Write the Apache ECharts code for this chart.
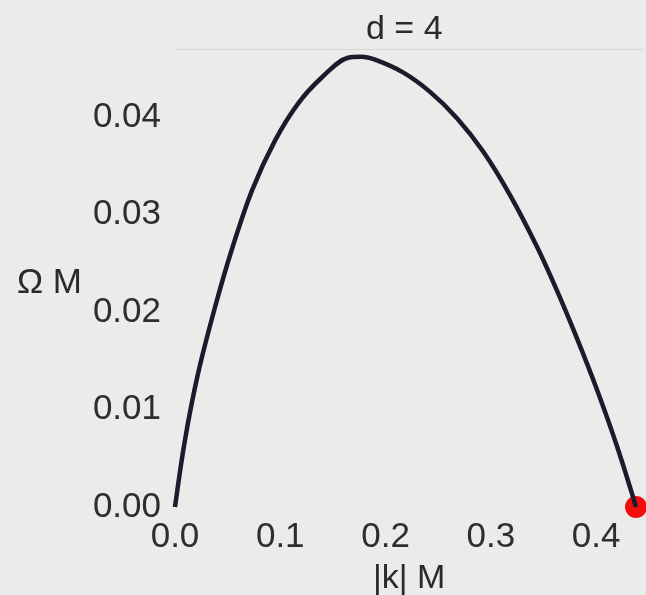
<!DOCTYPE html>
<html>
<head>
<meta charset="utf-8">
<script src="https://cdn.jsdelivr.net/npm/echarts@6/dist/echarts.min.js"></script>
<style>
html, body { margin: 0; padding: 0; background: #ebebea; }
#chart { width: 646px; height: 595px; }
</style>
</head>
<body>
<div id="chart"></div>
<script>
// Data
const titleText = 'd = 4';
const xName = '|k| M';
const yName = 'Ω M';
const kValues = [0, 0.0095, 0.0219, 0.038, 0.0542, 0.0732, 0.095, 0.1169, 0.1397, 0.1644, 0.177, 0.19, 0.2166, 0.2423, 0.2679, 0.2926, 0.3183, 0.3439, 0.3629, 0.3819, 0.401, 0.42, 0.438];
const omegaValues = [0, 0.0069, 0.0137, 0.0205, 0.0265, 0.0325, 0.0376, 0.0414, 0.0441, 0.0461, 0.0462, 0.0459, 0.0446, 0.0426, 0.0399, 0.0365, 0.0320, 0.0267, 0.0222, 0.0173, 0.0120, 0.0062, 0];
const endPoint = [0.438, 0];
const xTicks = [0, 0.1, 0.2, 0.3, 0.4];
const yTicks = [0, 0.01, 0.02, 0.03, 0.04];

const curve = kValues.map((k, i) => [k, omegaValues[i]]);
const font = 'Liberation Sans, Arial, sans-serif';

const chart = echarts.init(document.getElementById('chart'));
chart.setOption({
  backgroundColor: '#ebebea',
  animation: false,
  title: {
    text: titleText,
    left: 361,
    top: 8,
    textStyle: { fontFamily: font, fontSize: 34, fontWeight: 'normal', color: '#2a2a2a' }
  },
  grid: { left: 175, top: 49, bottom: 88, width: 468.4, outerBoundsMode: 'none', containLabel: false },
  xAxis: [{
    type: 'value',
    min: 0, max: 0.445, interval: 0.1,
    name: xName,
    nameLocation: 'middle',
    nameGap: 55,
    nameTextStyle: { fontFamily: font, fontSize: 34, color: '#2a2a2a' },
    axisLine: { show: false },
    axisTick: { show: false },
    splitLine: { show: false },
    axisLabel: {
      margin: 13,
      fontFamily: font, fontSize: 35, color: '#2e2e2e',
      formatter: v => xTicks.some(t => Math.abs(t - v) < 1e-9) ? v.toFixed(1) : ''
    }
  }, {
    type: 'value',
    position: 'top',
    min: 0, max: 0.445,
    axisLine: { show: true, lineStyle: { color: '#d6d6d6', width: 1 } },
    axisTick: { show: false },
    axisLabel: { show: false },
    splitLine: { show: false }
  }],
  yAxis: {
    type: 'value',
    min: 0, max: 0.047, interval: 0.01,
    name: yName,
    nameLocation: 'middle',
    nameRotate: 0,
    nameGap: 93,
    nameTextStyle: { fontFamily: font, fontSize: 35, color: '#2a2a2a', align: 'right', verticalAlign: 'top', lineHeight: 10 },
    axisLine: { show: false },
    axisTick: { show: false },
    splitLine: { show: false },
    axisLabel: {
      margin: 14,
      fontFamily: font, fontSize: 35, color: '#2e2e2e',
      formatter: v => yTicks.some(t => Math.abs(t - v) < 1e-9) ? v.toFixed(2) : ''
    }
  },
  series: [{
    type: 'line',
    data: curve,
    smooth: 0.35,
    showSymbol: false,
    clip: false,
    lineStyle: { color: '#1c1b2c', width: 4.5 }
  }, {
    type: 'scatter',
    data: [endPoint],
    symbolSize: 22,
    clip: false,
    itemStyle: { color: '#f50d0d', opacity: 1 }
  }]
});
</script>
</body>
</html>
